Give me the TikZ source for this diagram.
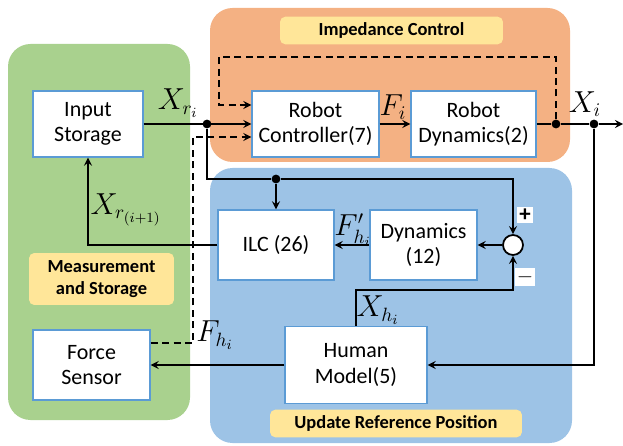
\documentclass[tikz,border=0pt]{standalone}
\usepackage{fontspec}
\setmainfont{Carlito}
\usetikzlibrary{arrows}
\definecolor{regiongreen}{RGB}{169,209,142}
\definecolor{regionorange}{RGB}{244,177,131}
\definecolor{regionblue}{RGB}{157,195,230}
\definecolor{tagyellow}{RGB}{255,230,153}
\definecolor{boxline}{RGB}{91,155,213}
\begin{document}
\begin{tikzpicture}[>=stealth, x=0.02cm, y=-0.02cm,
		block/.style={draw=boxline, fill=white, line width=0.8pt, align=center, font=\fontsize{12.5}{14.5}\selectfont},
		tag/.style={fill=tagyellow, rounded corners=3pt, align=center, font=\fontsize{10.5}{12.5}\selectfont\bfseries},
		sign/.style={fill=white, inner sep=1.2pt, font=\fontsize{13}{14}\selectfont\bfseries},
		lbl/.style={font=\fontsize{16}{18}\selectfont},
		dot/.style={circle, fill, inner sep=0pt, minimum size=5pt},
		dashline/.style={dash pattern=on 4pt off 2.5pt}]
		\useasboundingbox (0,0) rectangle (623,446);
		
		% Regions
		\fill[regiongreen, rounded corners=0.45cm] (8,44) rectangle (190,420);
		\fill[regionorange, rounded corners=0.45cm] (210,8) rectangle (570,162);
		\fill[regionblue, rounded corners=0.45cm] (210,168) rectangle (572,443);
		
		% Tags
		\node[tag, minimum width=4.46cm, minimum height=0.54cm] (tagimp) at (391.5,30.5) {Impedance Control};
		\node[tag, minimum width=2.9cm, minimum height=1.04cm] (tagmeas) at (101.5,279) {Measurement\\and Storage};
		\node[tag, minimum width=5.04cm, minimum height=0.54cm] (tagupd) at (396,423.5) {Update Reference Position};
		
		% Blocks
		\node[block, minimum width=2.2cm, minimum height=1.32cm] (instore) at (88,124) {Input\\Storage};
		\node[block, minimum width=2.54cm, minimum height=1.32cm] (rc) at (315.5,124) {Robot\\Controller(7)};
		\node[block, minimum width=2.5cm, minimum height=1.32cm] (rd) at (473.5,124) {Robot\\Dynamics(2)};
		\node[block, minimum width=2.32cm, minimum height=1.4cm] (ilc) at (276,245) {ILC (26)};
		\node[block, minimum width=2.14cm, minimum height=1.4cm] (dyn) at (423.5,245) {Dynamics\\(12)};
		\node[block, minimum width=2.34cm, minimum height=1.4cm] (fs) at (91.5,365) {Force\\Sensor};
		\node[block, minimum width=2.84cm, minimum height=1.54cm] (hm) at (356,365) {Human\\Model(5)};
		\node[circle, draw, fill=white, line width=1pt, minimum size=0.4cm, inner sep=0pt] (sum) at (513,245) {};
		
		% Junctions
		\node[dot] (jr) at (207,124) {};
		\node[dot] (jb) at (276,179) {};
		\node[dot] (jd) at (556,124) {};
		\node[dot] (jx) at (594,124) {};
		\coordinate (out) at (623,124);
		\coordinate (dtop) at (219,57);
		\coordinate (dbend) at (193,137);
		
		% Edges
		\draw[->, line width=1pt] (instore) -- (rc);
		\draw[line width=1pt] (jr) |- (jb);
		\draw[->, line width=1pt] (jb) -| (sum.north);
		\draw[->, line width=1pt] (jb) -- (ilc.north);
		\draw[->, line width=1pt] (rc) -- (rd);
		\draw[line width=1pt] (rd) -- (jd) -- (jx);
		\draw[->, line width=1pt] (jx) -- (out);
		\draw[->, line width=1pt] (jx) |- (hm.east);
		\draw[->, line width=1pt] (hm.west) -- (fs.east);
		\draw[->, line width=1pt] (hm.north) -- ++(0,-36) -| (sum.south);
		\draw[->, line width=1pt] (sum) -- (dyn);
		\draw[->, line width=1pt] (dyn) -- (ilc);
		\draw[->, line width=1pt] (ilc.west) -| (instore.south);
		\draw[->, dashline, line width=1pt] (jd) |- (dtop) |- ([yshift=0.38cm]rc.west);
		\draw[->, dashline, line width=1pt] ([yshift=0.44cm]fs.east) -| (dbend) -- (rc.west |- dbend);
		
		% Signs
		\node[sign] (plus) at (525,215) {+};
		\node[sign] (minus) at (525,277) {$-$};
		
		% Labels
		\node[lbl] (lxr) at (178,103) {$X_{r_i}$};
		\node[lbl] (lxrn) at (126,210) {$X_{r_{(i+1)}}$};
		\node[lbl] (lfi) at (393,107) {$F_i$};
		\node[lbl] (lxi) at (585,104) {$X_i$};
		\node[lbl] (lfh) at (353,230) {$F'_{h_i}$};
		\node[lbl] (lxh) at (378,310) {$X_{h_i}$};
		\node[lbl] (lfhi) at (215,335) {$F_{h_i}$};
		
	\end{tikzpicture}
\end{document}
